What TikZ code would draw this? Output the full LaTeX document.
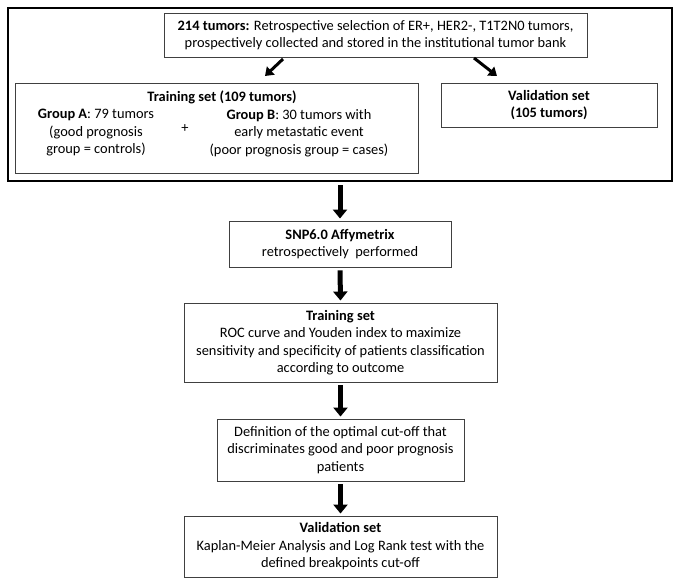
\documentclass[tikz,border=0pt]{standalone}
\usepackage{fontspec}
\setmainfont{Carlito}
\usetikzlibrary{arrows.meta}
\begin{document}
\begin{tikzpicture}[x=1pt,y=-1pt,
  box/.style={draw=black!75, line width=0.9pt, align=center, inner sep=0pt, anchor=center},
  txt/.style={align=center, inner sep=0pt, anchor=center},
  bigarrow/.style={line width=5pt, -{Triangle[length=9pt,width=14pt]}, shorten <=3pt, shorten >=2pt},
  diagarrow/.style={line width=3pt, -{Triangle[length=8pt,width=11pt]}},
  every node/.style={font=\fontsize{14.4}{17.5}\selectfont}]
\useasboundingbox (0,0) rectangle (681,585);
% outer frame
\node[draw=black, line width=2.4pt, minimum width=664pt, minimum height=173pt, inner sep=0pt] (outer) at (340,94.5) {};
% top box
\node[box, minimum width=423pt, minimum height=44pt] (top) at (375.5,35)
  {\textbf{214 tumors:} Retrospective selection of ER+, HER2-, T1T2N0 tumors,\\ prospectively collected and stored in the institutional tumor bank};
% training box
\node[box, minimum width=403pt, minimum height=90pt] (train) at (216.5,128) {};
\node[txt] (trainT) at (222,97) {\textbf{Training set (109 tumors)}};
\node[txt] (trainA) at (96,133) {\textbf{Group A}: 79 tumors\\(good prognosis\\group = controls)};
\node[txt] (plus) at (185,129) {+};
\node[txt] (trainB) at (299,133) {\textbf{Group B}: 30 tumors with\\early metastatic event\\(poor prognosis group = cases)};
% validation box
\node[box, minimum width=216pt, minimum height=44pt] (valid) at (549,105)
  {\textbf{Validation set}\\\textbf{(105 tumors)}};
% lower chain
\node[box, minimum width=222pt, minimum height=46pt] (snp) at (340,244)
  {\textbf{SNP6.0 Affymetrix}\\retrospectively\ \ performed};
\node[box, minimum width=313pt, minimum height=79pt] (roc) at (340.5,342.5)
  {\textbf{Training set}\\ROC curve and Youden index to maximize\\sensitivity and specificity of patients classification\\according to outcome};
\node[box, minimum width=247pt, minimum height=62pt] (cut) at (340.5,450)
  {Definition of the optimal cut-off that\\discriminates good and poor prognosis\\patients};
\node[box, minimum width=313pt, minimum height=61pt] (final) at (340.5,546.5)
  {\textbf{Validation set}\\Kaplan-Meier Analysis and Log Rank test with the\\defined breakpoints cut-off};
% diagonal arrows
\coordinate (la1) at (283,59);
\coordinate (la2) at (265,76);
\coordinate (ra1) at (474,58);
\coordinate (ra2) at (497,76);
\draw[diagarrow] (la1) -- (la2);
\draw[diagarrow] (ra1) -- (ra2);
% vertical arrows
\draw[bigarrow] (outer.south) -- (snp.north);
\draw[bigarrow] (snp.south) -- (roc.north);
\draw[bigarrow] (roc.south) -- (cut.north);
\draw[bigarrow] (cut.south) -- (final.north);
\end{tikzpicture}
\end{document}
